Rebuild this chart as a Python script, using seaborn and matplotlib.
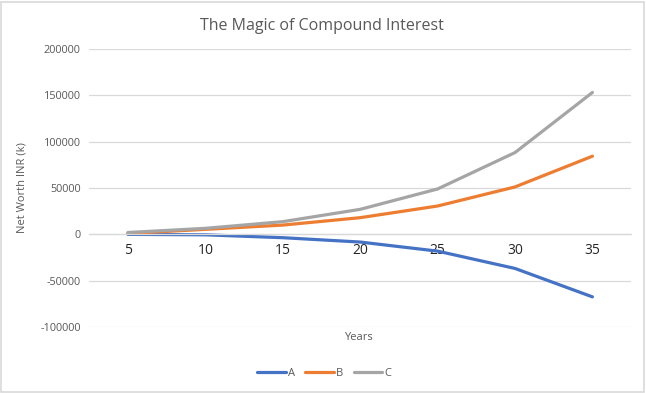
import matplotlib
matplotlib.use("Agg")
import matplotlib.pyplot as plt
import seaborn as sns
import pandas as pd
from matplotlib.patches import Rectangle

# data
years = [5, 10, 15, 20, 25, 30, 35]
series_a = [0, -500, -3600, -8300, -18100, -36800, -67500]
series_b = [1000, 5400, 10000, 18000, 30600, 51200, 84400]
series_c = [2000, 6500, 13700, 27000, 49000, 88300, 153200]
y_ticks = [-100000, -50000, 0, 50000, 100000, 150000, 200000]

df = pd.DataFrame({
    "Years": years * 3,
    "Value": series_a + series_b + series_c,
    "Series": ["A"] * 7 + ["B"] * 7 + ["C"] * 7,
})

sns.set_style("white")
plt.rcParams["font.family"] = ["Open Sans", "DejaVu Sans"]

txt = "#595959"
fig = plt.figure(figsize=(6.46, 3.93), dpi=100)
ax = fig.add_axes([0.138, 0.168, 0.839, 0.707])

palette = {"A": "#4472C4", "B": "#ED7D31", "C": "#A5A5A5"}
sns.lineplot(data=df, x="Years", y="Value", hue="Series", palette=palette,
             linewidth=2.3, ax=ax, legend=True)

ax.set_xlim(2.5, 37.5)
ax.set_ylim(-100000, 200000)
ax.set_yticks(y_ticks)
ax.set_yticklabels([str(v) for v in y_ticks], fontsize=7.8, color=txt)
ax.set_xticks(years)
ax.set_xticklabels([str(y) for y in years], fontsize=8, color=txt)
ax.tick_params(length=0, pad=6)

ax.grid(axis="y", color="#D9D9D9", linewidth=0.9)
ax.set_axisbelow(True)
for s in ["top", "right", "left"]:
    ax.spines[s].set_visible(False)
ax.spines["bottom"].set_position(("data", 0))
ax.spines["bottom"].set_color("#D9D9D9")
ax.spines["bottom"].set_linewidth(0.9)

ax.set_xlabel("")
ax.set_ylabel("Net Worth INR (k)", fontsize=8, color=txt, labelpad=9)
fig.text(0.555, 0.14, "Years", fontsize=8, color=txt, ha="center", va="center")
fig.text(0.498, 0.935, "The Magic of Compound Interest", fontsize=11.5,
         color=txt, ha="center", va="center")

leg = ax.legend(loc="center", bbox_to_anchor=(0.502, 0.05),
                bbox_transform=fig.transFigure, ncol=3, frameon=False,
                fontsize=8, handlelength=2.6, columnspacing=0.9,
                handletextpad=0.2)
for t in leg.get_texts():
    t.set_color(txt)

fig.patches.append(Rectangle((0.002, 0.003), 0.995, 0.993, transform=fig.transFigure,
                             fill=False, edgecolor="#D9D9D9", linewidth=1.2))

fig.savefig("out.png", dpi=100)
